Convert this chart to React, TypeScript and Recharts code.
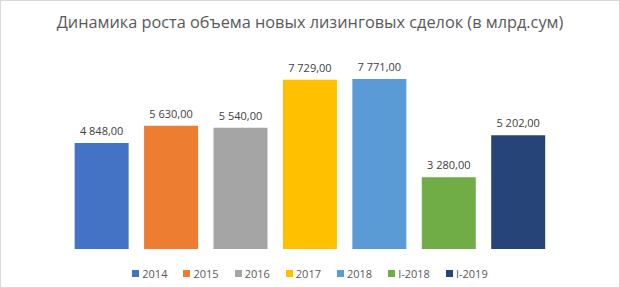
import React from 'react';
import { BarChart, Bar, XAxis, YAxis, Cell, LabelList } from 'recharts';

const categories = ['2014', '2015', '2016', '2017', '2018', 'I-2018', 'I-2019'];
const values = [4848, 5630, 5540, 7729, 7771, 3280, 5202];
const colors = ['#4472C4', '#ED7D31', '#A5A5A5', '#FFC000', '#5B9BD5', '#70AD47', '#264478'];
const title = 'Динамика роста объема новых лизинговых сделок (в млрд.сум)';

const data = categories.map((name, i) => ({ name, value: values[i] }));

// "4848" -> "4 848,00" with a non-breaking space so the label does not wrap
const fmt = (v: number) => {
  const s = Math.round(v).toString().replace(/\B(?=(\d{3})+(?!\d))/g, '\u00A0');
  return `${s},00`;
};

const FONT = "'Open Sans', 'Liberation Sans', sans-serif";

export default function App() {
  return (
    <div
      style={{
        position: 'absolute',
        left: 0,
        top: 0,
        width: 620,
        height: 288,
        boxSizing: 'border-box',
        border: '1px solid #d9d9d9',
        background: '#fff',
        fontFamily: FONT,
      }}
    >
      <div
        style={{
          position: 'absolute',
          top: 10,
          left: 0,
          width: 618,
          textAlign: 'center',
          fontSize: 16.3,
          color: '#595959',
        }}
      >
        {title}
      </div>
      <div style={{ position: 'absolute', left: -1, top: -1 }}>
        <BarChart
          width={620}
          height={288}
          data={data}
          margin={{ top: 52, right: 67, bottom: 39, left: 67 }}
          barCategoryGap="11%"
        >
          <XAxis dataKey="name" hide />
          <YAxis hide domain={[0, 9000]} />
          <Bar dataKey="value" isAnimationActive={false}>
            {data.map((d, i) => (
              <Cell key={d.name} fill={colors[i]} />
            ))}
            <LabelList
              dataKey="value"
              position="top"
              offset={8}
              formatter={(v: any) => fmt(Number(v))}
              style={{ fontSize: 11, fill: '#404040', fontFamily: FONT }}
            />
          </Bar>
        </BarChart>
      </div>
      <div
        style={{
          position: 'absolute',
          top: 265,
          left: 0,
          width: 618,
          display: 'flex',
          justifyContent: 'center',
          fontSize: 11,
          color: '#595959',
        }}
      >
        {categories.map((c, i) => (
          <div key={c} style={{ display: 'flex', alignItems: 'center', marginRight: i < categories.length - 1 ? 16 : 0 }}>
            <span style={{ display: 'inline-block', width: 7, height: 7, background: colors[i], marginRight: 3 }} />
            <span>{c}</span>
          </div>
        ))}
      </div>
    </div>
  );
}
